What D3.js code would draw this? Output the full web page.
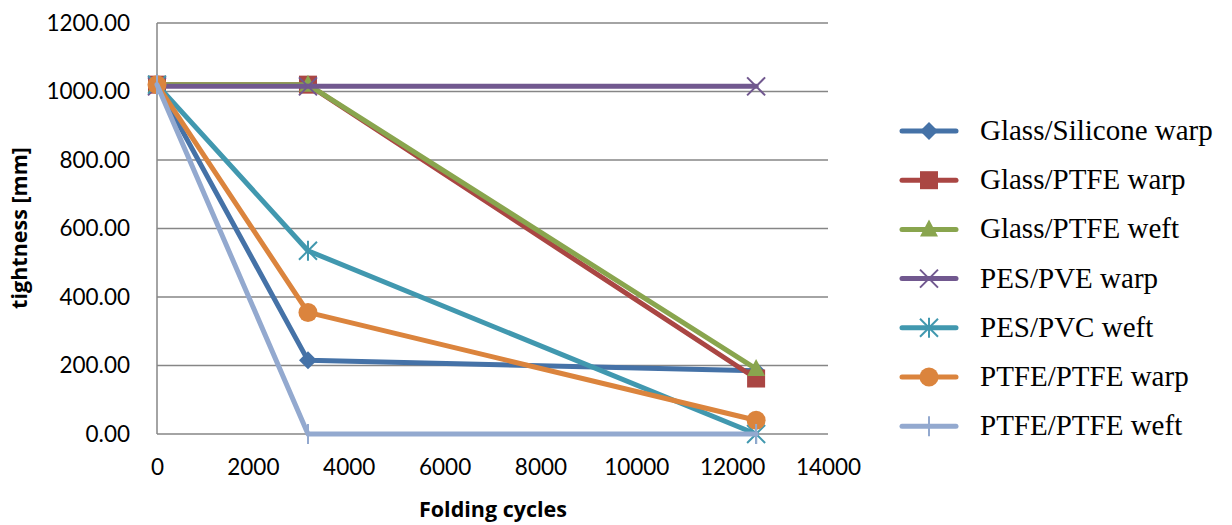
<!DOCTYPE html>
<html><head><meta charset="utf-8">
<script src="https://cdn.jsdelivr.net/npm/d3@7"></script>
<style>body{margin:0;background:#fff}</style>
</head><body><svg id="c" width="1232" height="525"></svg>
<script>
const cycles = [0, 3150, 12500];
const seriesNames = ["Glass/Silicone warp","Glass/PTFE warp","Glass/PTFE weft","PES/PVE warp","PES/PVC weft","PTFE/PTFE warp","PTFE/PTFE weft"];
const glassSiliconeWarp = [1020, 215, 185];
const glassPtfeWarp = [1020, 1020, 162];
const glassPtfeWeft = [1020, 1020, 190];
const pesPveWarp = [1015, 1015, 1015];
const pesPvcWeft = [1020, 535, 0];
const ptfePtfeWarp = [1020, 355, 40];
const ptfePtfeWeft = [1020, 0, 0];
const xTicks = [0,2000,4000,6000,8000,10000,12000,14000];
const yTicks = [0,200,400,600,800,1000,1200];

const allValues = [glassSiliconeWarp, glassPtfeWarp, glassPtfeWeft, pesPveWarp, pesPvcWeft, ptfePtfeWarp, ptfePtfeWeft];
const colors = ["#4572A7","#AA4643","#89A54E","#71588F","#4198AF","#DB843D","#93A9CF"];
const markers = ["diamond","square","triangle","x","star","circle","plus"];

const svg = d3.select("#c");
const x = d3.scaleLinear().domain([0,14000]).range([157,828]);
const y = d3.scaleLinear().domain([0,1200]).range([434,23]);

svg.append("g").selectAll("line").data(yTicks).join("line")
  .attr("x1",157).attr("x2",828).attr("y1",d=>y(d)).attr("y2",d=>y(d))
  .attr("stroke","#868686").attr("stroke-width",1.5);
svg.append("line").attr("x1",157).attr("x2",157).attr("y1",y(1200)).attr("y2",y(0))
  .attr("stroke","#868686").attr("stroke-width",1.5);

const tickFont = "Lato, 'Open Sans', sans-serif";
const yAxis = d3.axisLeft(y).tickValues(yTicks).tickFormat(d3.format(".2f")).tickSize(0).tickPadding(27);
const ga = svg.append("g").attr("transform","translate(157,0)").call(yAxis);
ga.select(".domain").remove();
ga.selectAll("text").attr("font-family",tickFont).attr("font-size",22.5).attr("fill","#000");
const xAxis = d3.axisBottom(x).tickValues(xTicks).tickFormat(d3.format("d")).tickSize(0).tickPadding(25);
const gx = svg.append("g").attr("transform","translate(0,434)").call(xAxis);
gx.select(".domain").remove();
gx.selectAll("text").attr("font-family",tickFont).attr("font-size",22.5).attr("fill","#000");

svg.append("text").attr("x",493).attr("y",517).attr("text-anchor","middle")
  .attr("font-family","'Open Sans', sans-serif").attr("font-weight","bold").attr("font-size",21.5)
  .text("Folding cycles");
svg.append("text").attr("transform","translate(27,228) rotate(-90)").attr("text-anchor","middle")
  .attr("font-family","'Open Sans', sans-serif").attr("font-weight","bold").attr("font-size",21.5)
  .text("tightness [mm]");

function drawMarker(g, type, cx, cy, color){
  const s = g.append("g").attr("transform",`translate(${cx},${cy})`);
  if(type==="diamond") s.append("path").attr("d","M0,-9L9,0L0,9L-9,0Z").attr("fill",color);
  else if(type==="square") s.append("rect").attr("x",-9).attr("y",-9).attr("width",18).attr("height",18).attr("fill",color);
  else if(type==="triangle") s.append("path").attr("d","M0,-10L9,7L-9,7Z").attr("fill",color);
  else if(type==="circle") s.append("circle").attr("r",9.5).attr("fill",color);
  else if(type==="x") s.append("path").attr("d","M-9,-9L9,9M-9,9L9,-9").attr("stroke",color).attr("stroke-width",2).attr("fill","none");
  else if(type==="star") s.append("path").attr("d","M-9,-9L9,9M-9,9L9,-9M0,-10L0,10").attr("stroke",color).attr("stroke-width",2).attr("fill","none");
  else if(type==="plus") s.append("path").attr("d","M0,-10L0,10").attr("stroke",color).attr("stroke-width",2).attr("fill","none");
}

const line = d3.line().x((d,i)=>x(cycles[i])).y(d=>y(d));
allValues.forEach((vals,k)=>{
  const g = svg.append("g");
  g.append("path").attr("d",line(vals)).attr("fill","none").attr("stroke",colors[k])
    .attr("stroke-width",5).attr("stroke-linejoin","round").attr("stroke-linecap","round");
  vals.forEach((v,i)=>drawMarker(g, markers[k], x(cycles[i]), y(v), colors[k]));
});

const lg = svg.append("g");
seriesNames.forEach((n,k)=>{
  const yy = 131 + k*49.2;
  lg.append("line").attr("x1",902).attr("x2",956).attr("y1",yy).attr("y2",yy)
    .attr("stroke",colors[k]).attr("stroke-width",5).attr("stroke-linecap","round");
  drawMarker(lg, markers[k], 929, yy, colors[k]);
  lg.append("text").attr("x",980).attr("y",yy+9).attr("font-family","'Liberation Serif', serif")
    .attr("font-size",29).text(n);
});
</script></body></html>
